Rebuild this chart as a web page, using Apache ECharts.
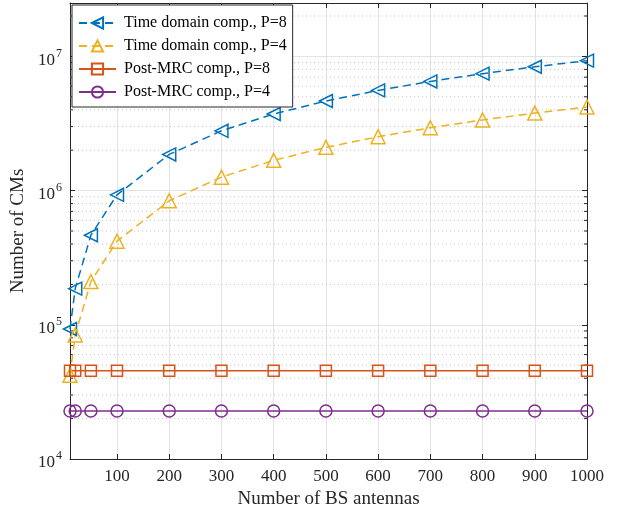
<!DOCTYPE html>
<html>
<head>
<meta charset="utf-8">
<script src="https://cdn.jsdelivr.net/npm/echarts@6/dist/echarts.min.js"></script>
<style>
html,body{margin:0;padding:0;background:#fff;}
#chart{width:622px;height:514px;}
</style>
</head>
<body>
<div id="chart"></div>
<script>
var antennas = [10, 20, 50, 100, 200, 300, 400, 500, 600, 700, 800, 900, 1000];
var timeP8 = [93000, 186000, 465000, 930000, 1860000, 2790000, 3720000, 4650000, 5580000, 6510000, 7440000, 8370000, 9300000];
var timeP4 = [42000, 84000, 210000, 420000, 840000, 1260000, 1680000, 2100000, 2520000, 2940000, 3360000, 3780000, 4200000];
var mrcP8 = [45500, 45500, 45500, 45500, 45500, 45500, 45500, 45500, 45500, 45500, 45500, 45500, 45500];
var mrcP4 = [22800, 22800, 22800, 22800, 22800, 22800, 22800, 22800, 22800, 22800, 22800, 22800, 22800];
var xTicks = [100, 200, 300, 400, 500, 600, 700, 800, 900, 1000];
var yMinor = [2e4, 3e4, 4e4, 5e4, 6e4, 7e4, 8e4, 9e4,
              2e5, 3e5, 4e5, 5e5, 6e5, 7e5, 8e5, 9e5,
              2e6, 3e6, 4e6, 5e6, 6e6, 7e6, 8e6, 9e6, 2e7];

var font = "'Liberation Serif', 'Times New Roman', serif";
var blue = '#0072BD', yellow = '#EDB120', orange = '#D95319', purple = '#7E2F8E';
var axisCol = '#262626';

function pair(xs, ys) {
    var out = [];
    for (var i = 0; i < xs.length; i++) out.push([xs[i], ys[i]]);
    return out;
}

function mkSeries(name, vals, color, symbol, size, dashed) {
    return {
        name: name,
        type: 'line',
        data: pair(antennas, vals),
        symbol: symbol,
        symbolSize: size,
        showAllSymbol: true,
        lineStyle: { color: color, width: 1.5, type: dashed ? [8, 5] : 'solid' },
        itemStyle: { color: 'rgba(255,255,255,0)', borderColor: color, borderWidth: 1.5 },
        emphasis: { disabled: true },
        z: 5
    };
}

var myChart = echarts.init(document.getElementById('chart'));

// dotted minor grid + minor ticks (left/right) for the log axis
var minorGrid = {
    type: 'custom',
    silent: true,
    z: 1,
    data: yMinor.map(function (v) { return [10, v]; }),
    renderItem: function (params, api) {
        var v = api.value(1);
        var p0 = api.coord([10, v]);
        var p1 = api.coord([1000, v]);
        return {
            type: 'group',
            children: [{
                type: 'line',
                shape: { x1: p0[0], y1: p0[1], x2: p1[0], y2: p1[1] },
                style: { stroke: '#c4c4c4', lineWidth: 1, lineDash: [1, 3] }
            }, {
                type: 'line',
                shape: { x1: p0[0], y1: p0[1], x2: p0[0] + 3, y2: p0[1] },
                style: { stroke: axisCol, lineWidth: 1 }
            }, {
                type: 'line',
                shape: { x1: p1[0] - 3, y1: p1[1], x2: p1[0], y2: p1[1] },
                style: { stroke: axisCol, lineWidth: 1 }
            }]
        };
    }
};

var option = {
    backgroundColor: '#fff',
    animation: false,
    textStyle: { fontFamily: font },
    grid: { left: 70, right: 35, top: 3, bottom: 55 },
    legend: {
        left: 72,
        top: 5,
        orient: 'vertical',
        backgroundColor: '#fff',
        borderColor: axisCol,
        borderWidth: 1,
        borderRadius: 0,
        padding: [10, 6, 7, 6],
        itemWidth: 37,
        itemHeight: 14,
        itemGap: 7,
        textStyle: { fontFamily: font, fontSize: 16, color: '#000', padding: [0, 0, 0, 3] },
        data: ['Time domain comp., P=8', 'Time domain comp., P=4', 'Post-MRC comp., P=8', 'Post-MRC comp., P=4'],
        z: 10
    },
    xAxis: [{
        type: 'value',
        min: 10,
        max: 1000,
        name: 'Number of BS antennas',
        nameLocation: 'middle',
        nameGap: 29,
        nameTextStyle: { fontFamily: font, fontSize: 19, color: '#262626' },
        axisLine: { show: true, lineStyle: { color: axisCol, width: 1 } },
        axisTick: { show: true, inside: true, length: 5, customValues: xTicks, lineStyle: { color: axisCol } },
        axisLabel: {
            customValues: xTicks, fontFamily: font, fontSize: 17, color: '#262626', margin: 9,
            formatter: function (v) { return String(v); }
        },
        splitLine: { show: true, lineStyle: { color: '#e3e3e3', width: 1 } }
    }, {
        type: 'value',
        position: 'top',
        min: 10,
        max: 1000,
        axisLine: { show: true, onZero: false, lineStyle: { color: axisCol, width: 1 } },
        axisTick: { show: true, inside: true, length: 5, customValues: xTicks, lineStyle: { color: axisCol } },
        axisLabel: { show: false },
        splitLine: { show: false }
    }],
    yAxis: [{
        type: 'log',
        logBase: 10,
        min: 1e4,
        max: 2.5e7,
        name: 'Number of CMs',
        nameLocation: 'middle',
        nameGap: 34,
        nameTextStyle: { fontFamily: font, fontSize: 19, color: '#262626' },
        axisLine: { show: true, lineStyle: { color: axisCol, width: 1 } },
        axisTick: { show: true, inside: true, length: 5, lineStyle: { color: axisCol } },
        axisLabel: {
            margin: 8,
            formatter: function (v) {
                var e = Math.log10(v);
                if (Math.abs(e - Math.round(e)) > 1e-6) return '';
                return '{b|10}{s|' + Math.round(e) + '}';
            },
            rich: {
                b: { fontFamily: font, fontSize: 17, color: '#262626', padding: [8, 0, 0, 0] },
                s: { fontFamily: font, fontSize: 12, color: '#262626', padding: [0, 0, 6, 1] }
            }
        },
        splitLine: { show: true, lineStyle: { color: '#e3e3e3', width: 1 } }
    }, {
        type: 'log',
        logBase: 10,
        min: 1e4,
        max: 2.5e7,
        position: 'right',
        axisLine: { show: true, onZero: false, lineStyle: { color: axisCol, width: 1 } },
        axisTick: { show: true, inside: true, length: 5, lineStyle: { color: axisCol } },
        axisLabel: { show: false },
        splitLine: { show: false }
    }],
    series: [
        minorGrid,
        mkSeries('Time domain comp., P=8', timeP8, blue, 'path://M0,5L10,0L10,10Z', 13, true),
        mkSeries('Time domain comp., P=4', timeP4, yellow, 'triangle', 14, true),
        mkSeries('Post-MRC comp., P=8', mrcP8, orange, 'rect', 11, false),
        mkSeries('Post-MRC comp., P=4', mrcP4, purple, 'circle', 12, false)
    ]
};
myChart.setOption(option);
</script>
</body>
</html>
